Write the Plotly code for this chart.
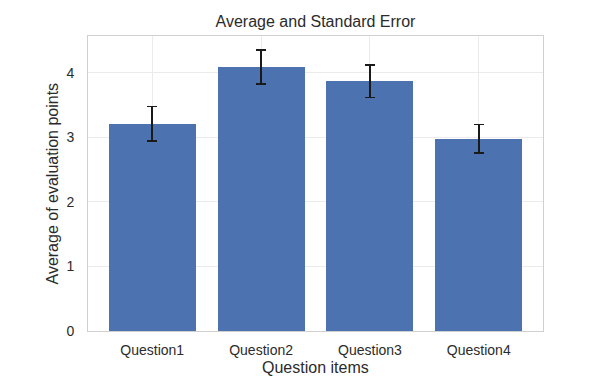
import plotly.graph_objects as go

categories = ["Question1", "Question2", "Question3", "Question4"]
means = [3.21, 4.09, 3.87, 2.98]
std_errors = [0.27, 0.26, 0.25, 0.22]
y_ticks = [0, 1, 2, 3, 4]

W, H = 593, 368  # page body has 8px margin in a 601x376 window
L, R, T, B = 80, 58, 28, 45
PW, PH = W - L - R, H - T - B

fig = go.Figure()
fig.add_trace(go.Bar(
    x=list(range(len(categories))),
    y=means,
    width=0.8,
    marker=dict(color="#4c72b0", line=dict(width=0)),
    error_y=dict(type="data", array=std_errors, visible=True,
                 color="#1a1a1a", thickness=1.6, width=5),
))

font_family = "Liberation Sans, Arial, sans-serif"
txt = "#2b2b2b"
fig.update_layout(
    width=W, height=H,
    margin=dict(l=L, r=R, t=T, b=B, autoexpand=False),
    paper_bgcolor="white", plot_bgcolor="white",
    font=dict(family=font_family, color=txt, size=14),
    showlegend=False,
    bargap=0,
    title=dict(text="Average and Standard Error", x=0.5, xanchor="center",
               xref="paper", y=1 - 13.5 / H, yanchor="middle", yref="container",
               font=dict(size=16, color=txt)),
    annotations=[
        dict(text="Question items", xref="paper", yref="paper",
             x=0.5, y=-36 / PH, xanchor="center", yanchor="middle",
             showarrow=False, font=dict(size=16, color=txt)),
        dict(text="Average of evaluation points", xref="paper", yref="paper",
             x=-36 / PW, y=0.5, xanchor="center", yanchor="middle",
             textangle=-90, showarrow=False, font=dict(size=16, color=txt)),
    ],
)
fig.update_xaxes(
    range=[-0.59, 3.59],
    tickmode="array", tickvals=list(range(len(categories))), ticktext=categories,
    showgrid=True, gridcolor="#ebebeb", gridwidth=1,
    showline=True, linecolor="#d0d0d0", linewidth=1, mirror=True,
    ticks="", zeroline=False,
    tickfont=dict(size=14, color=txt),
    ticklabelstandoff=6,
)
fig.update_yaxes(
    range=[0, 4.57],
    tickmode="array", tickvals=y_ticks,
    showgrid=True, gridcolor="#ebebeb", gridwidth=1,
    showline=True, linecolor="#d0d0d0", linewidth=1, mirror=True,
    ticks="", zeroline=False,
    tickfont=dict(size=14, color=txt),
    ticklabelstandoff=10,
)

fig.write_html("out.html")
